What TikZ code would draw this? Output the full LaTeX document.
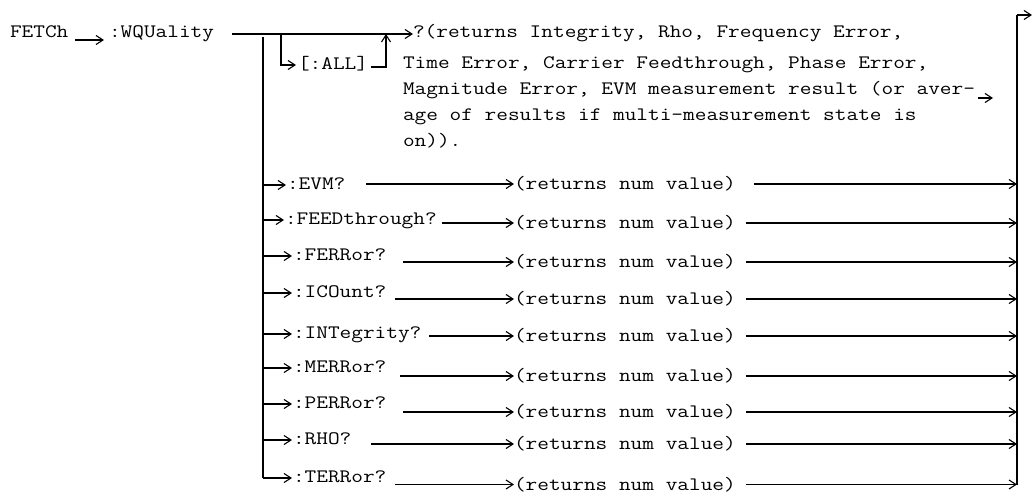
\documentclass[tikz,border=0pt]{standalone}
\usepackage{fontspec}
\setmonofont{Latin Modern Mono}[FakeStretch=1.193]
\usetikzlibrary{arrows.meta,calc}
\newcommand\diagfont{\ttfamily\fontsize{19}{25.7}\selectfont}
\begin{document}
\begin{tikzpicture}[x=1pt,y=-1pt,
  txt/.style={anchor=base west,inner sep=0pt,outer sep=0pt,font=\diagfont},
  rtxt/.style={anchor=west,inner sep=0pt,outer sep=0pt,font=\diagfont},
  ln/.style={line width=1.1pt},
  arr/.style={ln,-{Straight Barb[length=7pt,width=9pt,line width=1.1pt]}}]
\useasboundingbox (0,0) rectangle (1033,495);
% top row
\node[txt] (fetch) at (10,38) {FETCh};
\node[txt] (wq) at (109,38) {:WQUality};
\node[txt] (q) at (413,38) {?(returns Integrity, Rho, Frequency Error,};
\node[txt] (p2) at (403,69) {Time Error, Carrier Feedthrough, Phase Error,};
\node[txt] (p3) at (403,95) {Magnitude Error, EVM measurement result (or aver-};
\node[txt] (p4) at (403,120.5) {age of results if multi-measurement state is};
\node[txt] (p5) at (403,146) {on)).};
\node[txt] (all) at (298,70) {[:ALL]};
% commands
\node[txt] (c1) at (287,189) {:EVM?};
\node[txt] (c2) at (285,224) {:FEEDthrough?};
\node[txt] (c3) at (293,260) {:FERRor?};
\node[txt] (c4) at (293,297) {:ICOunt?};
\node[txt] (c5) at (293,338) {:INTegrity?};
\node[txt] (c6) at (293,372) {:MERRor?};
\node[txt] (c7) at (293,408) {:PERRor?};
\node[txt] (c8) at (293,444) {:RHO?};
\node[txt] (c9) at (293,482) {:TERRor?};
% returns
\foreach \i/\y in {1/184,2/223,3/262,4/299,5/336,6/376,7/412,8/444,9/484.5}
  \node[rtxt] (r\i) at (514,\y) {(returns num value)};
% coordinates
\coordinate (m0) at (232,34);
\coordinate (br) at (281,34);
\coordinate (up) at (386,34);
\coordinate (v0) at (263,37);
\coordinate (rt) at (1017,15);
\coordinate (rb) at (1017,484.5);
\coordinate (out) at (1032,15);
\foreach \i/\x/\y in {1/286/185,2/284/220,3/292/256,4/292/293,5/292/334,6/292/368,7/292/404,8/292/440,9/292/478}
  \coordinate (a\i) at (\x,\y);
% connectors
\draw[arr] ($(fetch.base east)+(7,2)$) -- ($(wq.base west)+(-5,2)$);
\draw[arr] (m0) -- (m0 -| q.west);
\draw[arr] (br) |- ($(all.base west)+(-2,-5)$);
\draw[arr] ($(all.base east)+(3,-3)$) -| (up);
\draw[arr] ($(p3.base east)+(3,3)$) -- ++(15,0);
\draw[ln] (v0) -- (v0 |- a9);
\foreach \i in {1,...,9} \draw[arr] (v0 |- a\i) -- (a\i);
\foreach \i/\g in {1/21,2/5,3/17,4/9,5/8,6/14,7/17,8/20,9/9}
  \draw[arr] ([xshift=\g pt]c\i.east |- r\i.west) -- (r\i.west);
\foreach \i/\g in {1/18,2/10,3/10,4/10,5/10,6/10,7/10,8/10,9/10}
  \draw[arr] ([xshift=\g pt]r\i.east) -- (r\i.east -| rt);
\draw[ln] (rb) -- (rt);
\draw[arr] (rt) -- (out);
\end{tikzpicture}
\end{document}
